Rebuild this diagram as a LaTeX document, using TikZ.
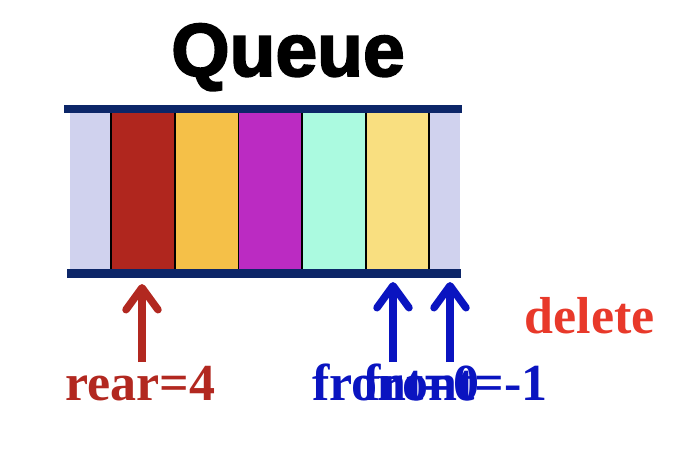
\documentclass[tikz,border=0pt]{standalone}
\usepackage{fontspec}
\setmainfont{Liberation Serif}
\newfontfamily\titlefont[BoldFeatures={FakeBold=2.5}]{Liberation Sans}
\usetikzlibrary{arrows.meta,positioning}
\definecolor{navybar}{RGB}{12,38,104}
\definecolor{slotbg}{RGB}{208,210,238}
\definecolor{cellA}{RGB}{176,38,30}
\definecolor{cellB}{RGB}{245,192,72}
\definecolor{cellC}{RGB}{187,43,194}
\definecolor{cellD}{RGB}{171,250,224}
\definecolor{cellE}{RGB}{249,223,128}
\definecolor{rearred}{RGB}{178,40,32}
\definecolor{delred}{RGB}{232,57,42}
\definecolor{frontblue}{RGB}{10,20,192}

\begin{document}
\begin{tikzpicture}[
        x=1pt, y=-1pt,
        cell/.style={draw=black, line width=1.8pt, minimum width=63.6pt, minimum height=158pt, inner sep=0pt, outer sep=0pt},
        lbl/.style={font=\fontsize{52}{54}\selectfont\bfseries, inner sep=0pt, anchor=base},
        ptr/.style={line width=7.5pt, -{Straight Barb[round, length=22pt, width=32pt]}},
    ]
        \useasboundingbox (0,0) rectangle (675,463);

        % --- title ---
        \node[font=\titlefont\fontsize{75}{80}\selectfont\bfseries, inner sep=0pt, anchor=base] (title) at (288,76) {Queue};

        % --- slot background and cells ---
        \fill[slotbg] (70,113) rectangle (460,269);
        \node[cell, fill=cellA] (c1) at (143,191) {};
        \node[cell, fill=cellB, right=0pt of c1] (c2) {};
        \node[cell, fill=cellC, right=0pt of c2] (c3) {};
        \node[cell, fill=cellD, right=0pt of c3] (c4) {};
        \node[cell, fill=cellE, right=0pt of c4] (c5) {};

        % --- rails ---
        \fill[navybar] (64,105) rectangle (462,113);
        \fill[navybar] (67,269) rectangle (461,278);

        % --- labels ---
        \node[lbl, text=rearred, anchor=base west] (rear) at (65,400) {rear=4};
        \node[lbl, text=frontblue, anchor=base west] (front0) at (312,400) {front=0};
        \node[lbl, text=frontblue, anchor=base east] (front1) at (548,400) {front=-1};
        \node[lbl, text=delred, anchor=base east] (del) at (655,333) {delete};

        % --- pointers ---
        \coordinate (rearTail) at (142,362);
        \coordinate (rearTip) at (142,284);
        \coordinate (f0Tail) at (393,362);
        \coordinate (f0Tip) at (393,282);
        \coordinate (f1Tail) at (450,362);
        \coordinate (f1Tip) at (450,282);
        \draw[ptr, rearred] (rearTail) -- (rearTip);
        \draw[ptr, frontblue] (f0Tail) -- (f0Tip);
        \draw[ptr, frontblue] (f1Tail) -- (f1Tip);
\end{tikzpicture}
\end{document}
